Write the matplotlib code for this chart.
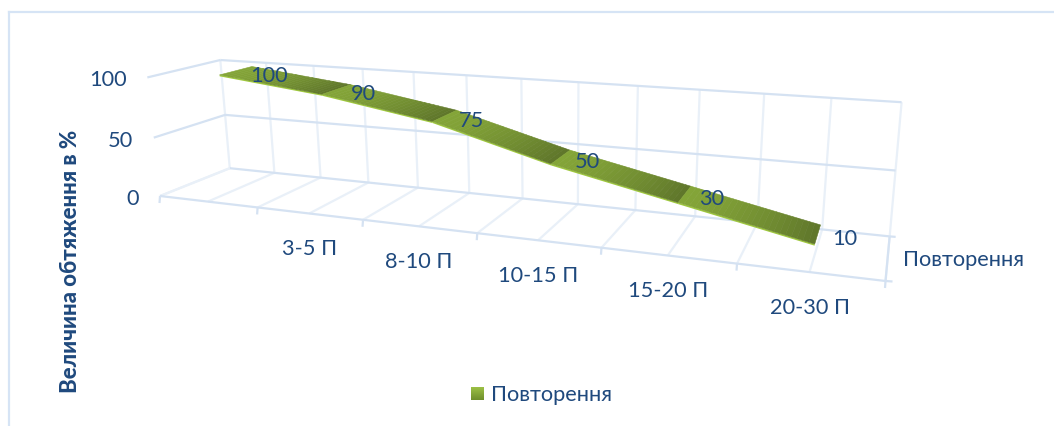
import numpy as np
import matplotlib
matplotlib.use('Agg')
import matplotlib.pyplot as plt
from matplotlib.collections import PolyCollection
from matplotlib.colors import to_rgb

# ==========================================
# Data
# ==========================================
categories = ['', '3-5 П', '8-10 П', '10-15 П', '15-20 П', '20-30 П']
load_values = [100, 90, 75, 50, 30, 10]
value_ticks = [0, 50, 100]
series_name = 'Повторення'
y_title = 'Величина обтяження в %'

plt.rcParams['font.family'] = ['Lato', 'Noto Sans', 'DejaVu Sans']

TEXT = '#1f497d'
WALL_LINE = '#d5e2f2'
GRID_LINE = '#e9f0f8'
LIGHT = '#84a538'
DARK = '#5f762b'
LIME = '#9fc83e'
Z_FRONT, Z_BACK = 0.31, 0.78
FONT = 15.7

# ==========================================
# Perspective camera: (category, value, depth) -> canvas pixels
# ==========================================
anchors = [
    ((0, 0, 0), (160, 196)), ((6, 0, 0), (885, 282)),
    ((0, 0, 1), (230, 169)), ((6, 0, 1), (890, 237)),
    ((0, 100, 1), (220, 62)), ((6, 100, 1), (902, 103)),
    ((0, 50, 1), (225, 116)), ((6, 50, 1), (895, 171)),
    ((0, 100, 0), (148, 78)), ((0, 50, 0), (153, 138)),
    ((1, 0, 0), (258, 209)), ((2, 0, 0), (363, 222)),
    ((3, 0, 0), (477, 233)), ((4, 0, 0), (602, 250)),
    ((5, 0, 0), (737, 265)),
]

def fit_camera(pairs):
    rows, rhs = [], []
    for (x, v, z), (u, w) in pairs:
        rows.append([x, v, z, 1, 0, 0, 0, 0, -u * x, -u * v, -u * z])
        rhs.append(u)
        rows.append([0, 0, 0, 0, x, v, z, 1, -w * x, -w * v, -w * z])
        rhs.append(w)
    sol = np.linalg.lstsq(np.array(rows, float), np.array(rhs, float), rcond=None)[0]
    return np.append(sol, 1).reshape(3, 4)

CAM = fit_camera(anchors)

def project(x, v, z):
    p = CAM @ np.array([x, v, z, 1.0])
    return p[0] / p[2], p[1] / p[2]

# ==========================================
# Drawing
# ==========================================
fig = plt.figure(figsize=(10.54, 4.27), dpi=100)
ax = fig.add_axes([0, 0, 1, 1])
ax.set_xlim(0, 1054)
ax.set_ylim(427, 0)
ax.axis('off')

def seg(p, q, color=GRID_LINE, lw=1.6):
    ax.plot([p[0], q[0]], [p[1], q[1]], color=color, lw=lw, solid_capstyle='butt', zorder=1)

# chart frame, open on the right and at the bottom
ax.plot([9, 9], [427, 13], color='#d6e4f5', lw=1.6, zorder=1)
ax.plot([9, 1054], [13, 13], color='#d6e4f5', lw=1.6, zorder=1)

n = len(categories)

# half-category gridlines on back wall and floor
for x in np.arange(0, n + 0.25, 0.5):
    seg(project(x, 0, 1), project(x, 100, 1))
    seg(project(x, 0, 0), project(x, 0, 1))

# value gridlines on back and side walls
for v in value_ticks:
    seg(project(0, v, 1), project(n, v, 1), WALL_LINE)
    if v > 0:
        seg(project(0, v, 0), project(0, v, 1), WALL_LINE)
    else:
        seg(project(0, v, 0), project(0, v, 1), GRID_LINE)
    u, w = project(0, v, 0)
    ax.text(u - 21, w + 2, str(v), ha='right', va='center', color=TEXT, fontsize=FONT)

# floor front edge, depth edge and their ticks
seg(project(0, 0, 0), project(n, 0, 0), WALL_LINE)
seg(project(n, 0, 0), project(n, 0, 1), WALL_LINE)
for i in range(n + 1):
    u, w = project(i, 0, 0)
    seg((u, w), (u - 0.5, w + 7), WALL_LINE)
u, w = project(n, 0, 1)
seg((u, w), (u + 6, w + 0.5), WALL_LINE)
u, w = project(n, 0, 0)
seg((u, w), (u + 7, w + 0.5), WALL_LINE)

# category labels
for i, name in enumerate(categories):
    u, w = project(i + 0.5, 0, 0)
    ax.text(u, w + 35, name, ha='center', va='center', color=TEXT, fontsize=FONT)

# series ribbon, shaded from light to dark along each segment
polys, colors, rims = [], [], []
light, dark = np.array(to_rgb(LIGHT)), np.array(to_rgb(DARK))
for i in range(n - 1):
    x0, x1 = i + 0.5, i + 1.5
    v0, v1 = load_values[i], load_values[i + 1]
    steps = np.linspace(0, 1, 25)
    for a, b in zip(steps[:-1], steps[1:]):
        xa, xb = x0 + (x1 - x0) * a, x0 + (x1 - x0) * b
        va, vb = v0 + (v1 - v0) * a, v0 + (v1 - v0) * b
        polys.append([project(xa, va, Z_FRONT), project(xb, vb, Z_FRONT),
                      project(xb, vb, Z_BACK), project(xa, va, Z_BACK)])
        colors.append(light + (dark - light) * ((a + b) / 2) ** 1.5)
    rims.append([project(x0, v0, Z_FRONT), project(x1, v1, Z_FRONT),
                 project(x1, v1 - 1.2, Z_FRONT), project(x0, v0 - 1.2, Z_FRONT)])
ax.add_collection(PolyCollection(rims, facecolors=LIME, edgecolors='none', zorder=2))
ax.add_collection(PolyCollection(polys, facecolors=colors, edgecolors=colors, linewidths=0.4, zorder=3))

# data labels
for i, val in enumerate(load_values):
    u, w = project(i + 0.5, val, (Z_FRONT + Z_BACK) / 2)
    ax.text(u + 14, w + 4, str(val), ha='left', va='center', color=TEXT, fontsize=FONT, zorder=4)

# series axis name, y title
ax.text(903, 260, series_name, ha='left', va='center', color=TEXT, fontsize=FONT)
ax.text(71, 261, y_title, ha='center', va='center', rotation=90, color=TEXT, fontsize=16, fontweight='black')

# legend
top, bottom = np.array(to_rgb('#9cc045')), np.array(to_rgb('#6f8f2c'))
grad = np.linspace(0, 1, 32)[:, None, None] * (bottom - top) + top
ax.imshow(grad, extent=(471, 484, 401, 388), aspect='auto', zorder=2)
ax.set_xlim(0, 1054)
ax.set_ylim(427, 0)
ax.text(491, 395, series_name, ha='left', va='center', color=TEXT, fontsize=FONT)

fig.savefig('out.png', dpi=100)
